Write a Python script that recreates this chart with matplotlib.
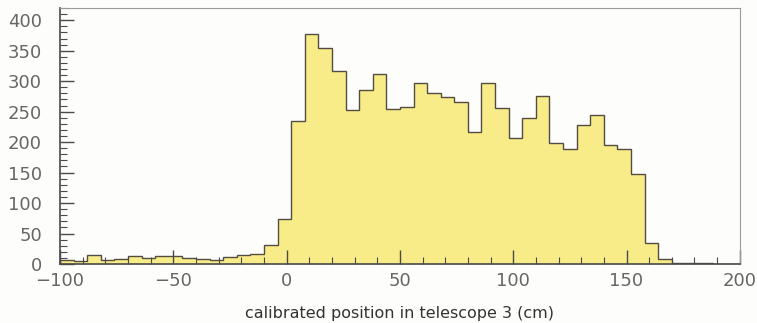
import numpy as np
import matplotlib
matplotlib.use('Agg')
import matplotlib.pyplot as plt
from matplotlib.ticker import MultipleLocator

# bin edges: 6 cm wide from -100 to 200
bin_start = -100
bin_stop = 200
bin_width = 6
counts = [7, 5, 15, 7, 9, 13, 10, 13, 13, 10,
          8, 6, 11, 15, 16, 31, 74, 234, 378, 354,
          316, 252, 286, 312, 254, 258, 297, 280, 274, 266,
          217, 297, 256, 206, 239, 275, 198, 188, 228, 245,
          195, 188, 147, 34, 9, 2, 1, 1, 0, 0]
xlabel = "calibrated position in telescope 3 (cm)"

edges = np.arange(bin_start, bin_stop + 1, bin_width)

fig = plt.figure(figsize=(7.57, 3.23), dpi=100)
fig.patch.set_facecolor('#fdfdfc')
ax = fig.add_axes([0.0793, 0.1827, 0.898, 0.7923])
ax.set_facecolor('#fdfdfc')

ax.stairs(counts, edges, fill=True, color='#f7ec88')
ax.stairs(counts, edges, fill=False, color='#544c40', linewidth=1.0)

ax.set_xlim(-100, 200)
ax.set_ylim(0, 420)

ax.xaxis.set_major_locator(MultipleLocator(50))
ax.xaxis.set_minor_locator(MultipleLocator(10))
ax.yaxis.set_major_locator(MultipleLocator(50))
ax.yaxis.set_minor_locator(MultipleLocator(10))

ax.tick_params(which='both', direction='in', top=False, right=False,
               colors='#4a4a4a', labelcolor='#666666', labelsize=13)
ax.tick_params(which='major', length=10, width=1.0)
ax.tick_params(which='minor', length=5, width=0.8)
ax.tick_params(axis='x', pad=6)
ax.tick_params(axis='y', pad=13)

for side in ['left', 'bottom']:
    ax.spines[side].set_color('#4a4a4a')
    ax.spines[side].set_linewidth(1.2)
for side in ['top', 'right']:
    ax.spines[side].set_color('#9a9a9a')
    ax.spines[side].set_linewidth(0.8)

ax.set_xlabel(xlabel, fontsize=11.5, color='#333333', labelpad=11)

fig.savefig('out.png', dpi=100, facecolor=fig.get_facecolor())
